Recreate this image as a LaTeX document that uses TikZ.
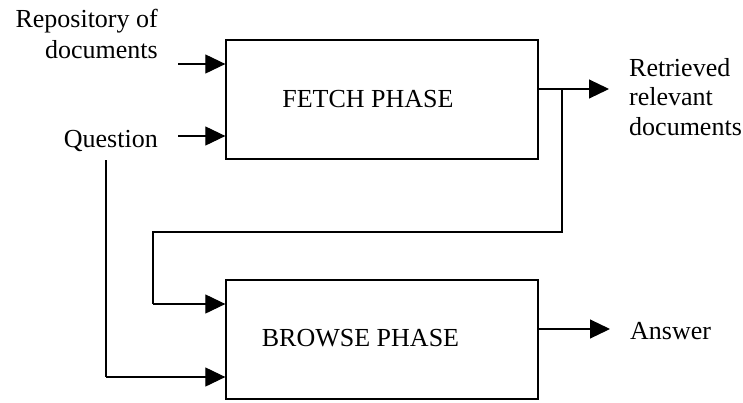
\documentclass[tikz,border=0pt]{standalone}
\usepackage{fontspec}
\setmainfont{Liberation Serif}
\usetikzlibrary{arrows.meta}
\begin{document}
\begin{tikzpicture}[x=1pt,y=-1pt,
  phasebox/.style={draw, line width=1.3pt, minimum width=312pt, minimum height=119pt, inner sep=0pt},
  lbl/.style={inner sep=0pt, font=\fontsize{26}{29.5}\selectfont},
  wire/.style={line width=1.1pt},
  arr/.style={wire, -{Triangle[length=20pt,width=19pt]}}]
\useasboundingbox (0,0) rectangle (743,402);
% boxes
\node[phasebox] (fetch) at (382,99.5) {};
\node[phasebox] (browse) at (382,339.5) {};
\node[lbl, anchor=base] (fetchlbl) at (368,107) {FETCH PHASE};
\node[lbl, anchor=base] (browselbl) at (360.5,346) {BROWSE PHASE};
% texts
\node[lbl, anchor=base east] (repo1) at (158,27) {Repository of};
\node[lbl, anchor=base east] (repo2) at (158,58) {documents};
\node[lbl, anchor=base east] (question) at (158,147) {Question};
\node[lbl, anchor=base west, align=left] (retr) at (629,135) {Retrieved\\relevant\\documents};
\node[lbl, anchor=base west] (answer) at (630,339) {Answer};
% coordinates
\coordinate (repin) at (178,64);
\coordinate (qin) at (178,136);
\coordinate (outtip) at (609,89);
\coordinate (junc) at (562,89);
\coordinate (loopA) at (562,232);
\coordinate (loopB) at (153,232);
\coordinate (loopC) at (153,304);
\coordinate (qtop) at (106,160);
\coordinate (qbot) at (106,377);
\coordinate (anstip) at (610,329);
% connectors
\draw[arr] (repin) -- (repin -| fetch.west);
\draw[arr] (qin) -- (qin -| fetch.west);
\draw[arr] (outtip -| fetch.east) -- (outtip);
\draw[wire] (junc) -- (loopA) -- (loopB) -- (loopC);
\draw[arr] (loopC) -- (loopC -| browse.west);
\draw[wire] (qtop) -- (qbot);
\draw[arr] (qbot) -- (qbot -| browse.west);
\draw[arr] (anstip -| browse.east) -- (anstip);
\end{tikzpicture}
\end{document}
